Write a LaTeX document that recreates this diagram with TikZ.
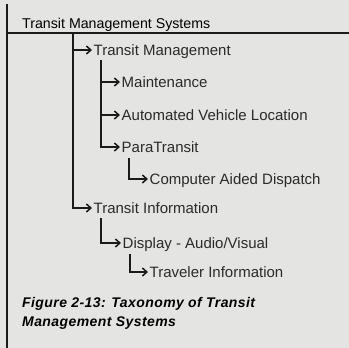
\documentclass[tikz,border=0pt]{standalone}
\usepackage{fontspec}
\setmainfont{Liberation Sans}
\usetikzlibrary{arrows.meta, positioning}
\definecolor{paper}{HTML}{E4E4E2}
\definecolor{inkline}{HTML}{1A1A1A}
\definecolor{itemtext}{HTML}{2A2A2A}

\begin{document}
\begin{tikzpicture}[
    x=1pt, y=-1pt,
    heading/.style={anchor=west, inner sep=0pt, text height=10.2pt, text depth=0pt,
                    font=\fontsize{14.2}{18}\selectfont, text=black},
    entry/.style={anchor=west, inner xsep=1.5pt, inner ysep=0pt, text height=10.7pt,
                  text depth=0pt, font=\fontsize{15}{18}\selectfont, text=itemtext},
    caption/.style={anchor=west, inner sep=0pt, text height=10pt, text depth=0pt,
                    font=\fontsize{14}{18}\selectfont\bfseries\itshape\addfontfeatures{LetterSpace=3}},
    link/.style={-{Straight Barb[length=4.5pt,width=8pt]}, line width=1.5pt, draw=inkline},
    frame/.style={line width=1.4pt, draw=inkline}
]

% page and frame
\useasboundingbox (0,0) rectangle (349,348);
\fill[paper] (0,0) rectangle (349,348);
\draw[frame] (7,4) -- (7,348);
\draw[frame, line width=1.8pt] (7,33) -- (349,33);

% nodes
\node[heading] (title) at (22,23) {Transit Management Systems};

\node[entry] (tm)    at (92,50)  {Transit Management};
\node[entry] (maint) at (120,82) {Maintenance};
\node[entry] (avl)   at (120,115) {Automated Vehicle Location};
\node[entry] (para)  at (120,147) {ParaTransit};
\node[entry] (cad)   at (148,179) {Computer Aided Dispatch};
\node[entry] (ti)    at (92,208) {Transit Information};
\node[entry] (disp)  at (121,243) {Display - Audio/Visual};
\node[entry] (trav)  at (148,272) {Traveler Information};

\node[caption] (cap1) at (22,302) {Figure 2-13: Taxonomy of Transit};
\node[caption] (cap2) at (22,321) {Management Systems};

% stems
\coordinate (trunk)     at (73,33);
\coordinate (tm-stem)   at (101,60);
\coordinate (para-stem) at (129,158);
\coordinate (ti-stem)   at (101,218);
\coordinate (disp-stem) at (130,254);

% tree links
\draw[link] (trunk) |- (tm.west);
\draw[link] (trunk) |- (ti.west);
\draw[link] (tm-stem) |- (maint.west);
\draw[link] (tm-stem) |- (avl.west);
\draw[link] (tm-stem) |- (para.west);
\draw[link] (para-stem) |- (cad.west);
\draw[link] (ti-stem) |- (disp.west);
\draw[link] (disp-stem) |- (trav.west);

\end{tikzpicture}
\end{document}
